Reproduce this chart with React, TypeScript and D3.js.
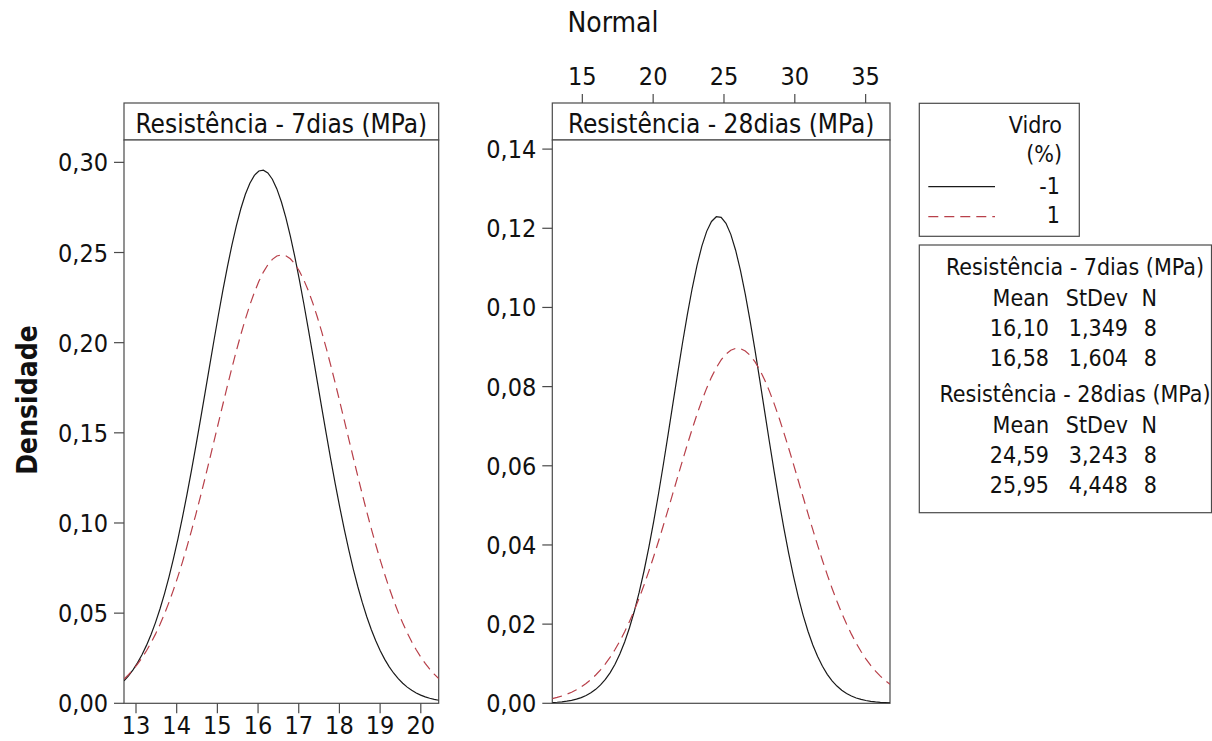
import React from "react";
import * as d3 from "d3";

// ---- data ----
const groupLabels = ["-1", "1"];
const groupColors = ["#1a1a1a", "#b8404a"];
const groupDash = ["none", "10,6"];
const mean7 = [16.1, 16.58];
const sd7 = [1.349, 1.604];
const n7 = [8, 8];
const mean28 = [24.59, 25.95];
const sd28 = [3.243, 4.448];
const n28 = [8, 8];
const xTicks7 = [13, 14, 15, 16, 17, 18, 19, 20];
const yTicks7 = [0, 0.05, 0.1, 0.15, 0.2, 0.25, 0.3];
const xTicks28 = [15, 20, 25, 30, 35];
const yTicks28 = [0, 0.02, 0.04, 0.06, 0.08, 0.1, 0.12, 0.14];
const title7 = "Resistência - 7dias (MPa)";
const title28 = "Resistência - 28dias (MPa)";

const FONT = "'DejaVu Sans Condensed', 'DejaVu Sans', sans-serif";
const FRAME = "#4a4a4a";

const comma = (s: string) => s.replace(".", ",");
const f2 = (v: number) => comma(d3.format(".2f")(v));
const f3 = (v: number) => comma(d3.format(".3f")(v));

const pdf = (x: number, m: number, s: number) =>
  Math.exp(-0.5 * ((x - m) / s) ** 2) / (s * Math.sqrt(2 * Math.PI));

const TOP = 103;
const HEAD_B = 140;
const BOT = 703.3;

type PanelProps = {
  id: string;
  x0: number;
  x1: number;
  xDomain: [number, number];
  yDomain: [number, number];
  xTicks: number[];
  yTicks: number[];
  xAxisTop: boolean;
  title: string;
  means: number[];
  sds: number[];
};

function Panel(p: PanelProps) {
  const x = d3.scaleLinear().domain(p.xDomain).range([p.x0, p.x1]);
  const y = d3.scaleLinear().domain(p.yDomain).range([BOT, HEAD_B]);
  const samples = d3.range(0, 71).map(
    (i) => p.xDomain[0] + ((p.xDomain[1] - p.xDomain[0]) * i) / 70
  );
  return (
    <g>
      <defs>
        <clipPath id={p.id}>
          <rect x={p.x0} y={HEAD_B} width={p.x1 - p.x0} height={BOT - HEAD_B} />
        </clipPath>
      </defs>
      {/* header */}
      <rect x={p.x0} y={TOP} width={p.x1 - p.x0} height={HEAD_B - TOP} fill="#fff" stroke={FRAME} strokeWidth={1.2} />
      <text x={(p.x0 + p.x1) / 2} y={133} textAnchor="middle" fontSize={26} fontFamily={FONT} fill="#111">
        {p.title}
      </text>
      {/* plot frame */}
      <rect x={p.x0} y={HEAD_B} width={p.x1 - p.x0} height={BOT - HEAD_B} fill="#fff" stroke={FRAME} strokeWidth={1.2} />
      {/* curves */}
      <g clipPath={`url(#${p.id})`}>
        {p.means.map((m, i) => {
          const line = d3
            .line<number>()
            .x((d) => x(d))
            .y((d) => y(pdf(d, m, p.sds[i])));
          return (
            <path
              key={i}
              d={line(samples) as string}
              fill="none"
              stroke={groupColors[i]}
              strokeWidth={1.2}
              strokeDasharray={groupDash[i]}
            />
          );
        })}
      </g>
      {/* y axis */}
      {p.yTicks.map((t) => (
        <g key={t}>
          <line x1={p.x0 - 10} x2={p.x0} y1={y(t)} y2={y(t)} stroke={FRAME} strokeWidth={1.2} />
          <text x={p.x0 - 16} y={y(t) + 9} textAnchor="end" fontSize={25} fontFamily={FONT} fill="#111">
            {f2(t)}
          </text>
        </g>
      ))}
      {/* x axis */}
      {p.xTicks.map((t) =>
        p.xAxisTop ? (
          <g key={t}>
            <line x1={x(t)} x2={x(t)} y1={TOP - 9} y2={TOP} stroke={FRAME} strokeWidth={1.2} />
            <text x={x(t)} y={85} textAnchor="middle" fontSize={25} fontFamily={FONT} fill="#111">
              {t}
            </text>
          </g>
        ) : (
          <g key={t}>
            <line x1={x(t)} x2={x(t)} y1={BOT} y2={BOT + 10} stroke={FRAME} strokeWidth={1.2} />
            <text x={x(t)} y={733.5} textAnchor="middle" fontSize={25} fontFamily={FONT} fill="#111">
              {t}
            </text>
          </g>
        )
      )}
    </g>
  );
}

export default function App() {
  const legendFont = 23;
  const statRows: { title: string; means: number[]; sds: number[]; ns: number[]; base: number }[] = [
    { title: title7, means: mean7, sds: sd7, ns: n7, base: 275 },
    { title: title28, means: mean28, sds: sd28, ns: n28, base: 402 },
  ];
  return (
    <svg
      width={1212}
      height={741}
      style={{ position: "absolute", left: 0, top: 0, background: "#fff" }}
    >
      <rect x={0} y={0} width={1212} height={741} fill="#fff" />
      <text x={613} y={32} textAnchor="middle" fontSize={28} fontFamily={FONT} fill="#111">
        Normal
      </text>
      <text
        transform="translate(37,400) rotate(-90)"
        textAnchor="middle"
        fontSize={28}
        fontWeight="bold"
        fontFamily={FONT}
        fill="#111"
      >
        Densidade
      </text>

      <Panel
        id="clip7"
        x0={124}
        x1={438.7}
        xDomain={[12.705, 20.44]}
        yDomain={[0, 0.3124]}
        xTicks={xTicks7}
        yTicks={yTicks7}
        xAxisTop={false}
        title={title7}
        means={mean7}
        sds={sd7}
      />
      <Panel
        id="clip28"
        x0={552.3}
        x1={890}
        xDomain={[12.88, 36.72]}
        yDomain={[0, 0.1423]}
        xTicks={xTicks28}
        yTicks={yTicks28}
        xAxisTop={true}
        title={title28}
        means={mean28}
        sds={sd28}
      />

      {/* legend box 1 */}
      <rect x={919.3} y={103.3} width={160} height={133} fill="#fff" stroke={FRAME} strokeWidth={1.2} />
      <text x={1062} y={132.7} textAnchor="end" fontSize={legendFont} fontFamily={FONT} fill="#111">
        Vidro
      </text>
      <text x={1062} y={162} textAnchor="end" fontSize={legendFont} fontFamily={FONT} fill="#111">
        (%)
      </text>
      {groupLabels.map((g, i) => (
        <g key={g}>
          <line
            x1={928.3}
            x2={995}
            y1={186.7 + i * 30}
            y2={186.7 + i * 30}
            stroke={groupColors[i]}
            strokeWidth={1.2}
            strokeDasharray={groupDash[i]}
          />
          <text x={1060} y={194 + i * 29.3} textAnchor="end" fontSize={legendFont} fontFamily={FONT} fill="#111">
            {g}
          </text>
        </g>
      ))}

      {/* legend box 2 */}
      <rect x={919.3} y={245} width={292.2} height={267.7} fill="#fff" stroke={FRAME} strokeWidth={1.2} />
      {statRows.map((r) => (
        <g key={r.title}>
          <text x={1075} y={r.base} textAnchor="middle" fontSize={legendFont} fontFamily={FONT} fill="#111">
            {r.title}
          </text>
          <text x={1049} y={r.base + 31} textAnchor="end" fontSize={legendFont} fontFamily={FONT} fill="#111">Mean</text>
          <text x={1128} y={r.base + 31} textAnchor="end" fontSize={legendFont} fontFamily={FONT} fill="#111">StDev</text>
          <text x={1157} y={r.base + 31} textAnchor="end" fontSize={legendFont} fontFamily={FONT} fill="#111">N</text>
          {r.means.map((m, i) => (
            <g key={i}>
              <text x={1049} y={r.base + 61 + i * 30} textAnchor="end" fontSize={legendFont} fontFamily={FONT} fill="#111">
                {f2(m)}
              </text>
              <text x={1128} y={r.base + 61 + i * 30} textAnchor="end" fontSize={legendFont} fontFamily={FONT} fill="#111">
                {f3(r.sds[i])}
              </text>
              <text x={1157} y={r.base + 61 + i * 30} textAnchor="end" fontSize={legendFont} fontFamily={FONT} fill="#111">
                {r.ns[i]}
              </text>
            </g>
          ))}
        </g>
      ))}
    </svg>
  );
}
